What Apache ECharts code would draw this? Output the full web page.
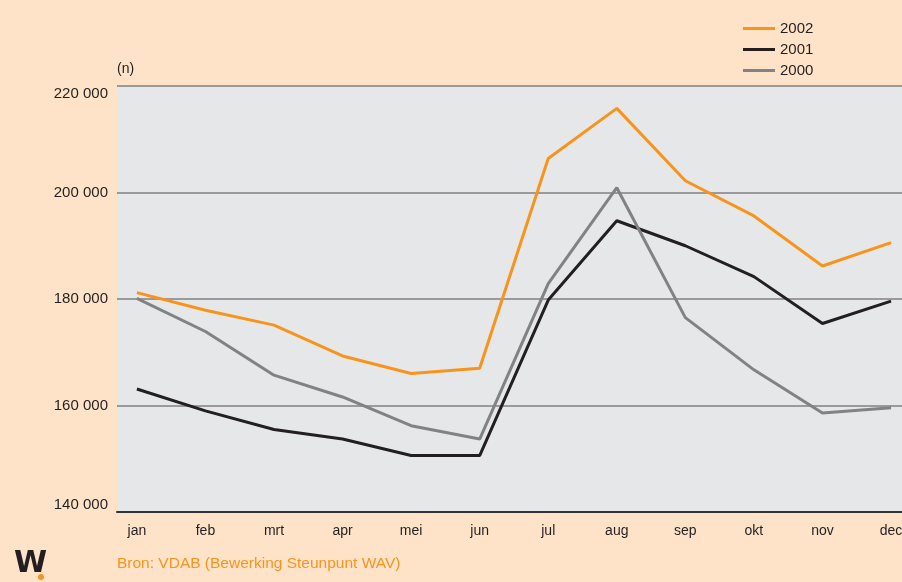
<!DOCTYPE html>
<html>
<head>
<meta charset="utf-8">
<script src="https://cdn.jsdelivr.net/npm/echarts@6/dist/echarts.min.js"></script>
<style>
  html, body { margin: 0; padding: 0; background: #fee3c8; }
  #chart { width: 902px; height: 582px; }
</style>
</head>
<body>
<div id="chart"></div>
<script>
  // maanden (x-as)
  var months = ['jan', 'feb', 'mrt', 'apr', 'mei', 'jun', 'jul', 'aug', 'sep', 'okt', 'nov', 'dec']
  // werkzoekenden per maand
  var data2002 = [181200, 177900, 175100, 169300, 166000, 167000, 206400, 215800, 202200, 195600, 186200, 190600]
  var data2001 = [163100, 159000, 155500, 153700, 150600, 150600, 179800, 194700, 190000, 184200, 175400, 179600]
  var data2000 = [180100, 173900, 165700, 161600, 156200, 153700, 182900, 200900, 176500, 166700, 158600, 159600]
  var yTicks = [140000, 160000, 180000, 200000, 220000]

  var font = '"Liberation Sans", Arial, sans-serif'

  function pairs(arr) {
    return arr.map(function (v, i) { return [i, v] })
  }
  function fmt(v) {
    return String(v).replace(/\B(?=(\d{3})+(?!\d))/g, ' ')
  }

  var chart = echarts.init(document.getElementById('chart'))
  var option = {
    backgroundColor: '#fee3c8',
    animation: false,
    textStyle: { fontFamily: font },
    legend: {
      orient: 'vertical',
      left: 738,
      top: 16,
      icon: 'rect',
      itemWidth: 32,
      itemHeight: 3,
      itemGap: 6,
      textStyle: { fontSize: 15, color: '#231f20', fontFamily: font },
      data: ['2002', '2001', '2000']
    },
    grid: {
      left: 117,
      right: 0,
      top: 86,
      bottom: 70,
      outerBoundsMode: 'none',
      containLabel: false,
      show: true,
      backgroundColor: '#e6e7e8',
      borderWidth: 0
    },
    xAxis: {
      type: 'value',
      min: -0.29,
      max: 11.16,
      axisLine: { show: true, onZero: false, lineStyle: { color: '#333', width: 2 } },
      axisTick: { show: false },
      splitLine: { show: false },
      axisLabel: {
        margin: 12,
        fontSize: 14,
        color: '#231f20',
        customValues: months.map(function (m, i) { return i }),
        formatter: function (v) { return months[Math.round(v)] || '' }
      }
    },
    yAxis: {
      type: 'value',
      min: yTicks[0],
      max: yTicks[yTicks.length - 1],
      interval: 20000,
      axisLine: { show: false },
      axisTick: { show: false },
      axisLabel: {
        margin: 9,
        fontSize: 15,
        color: '#231f20',
        verticalAlignMinLabel: 'bottom',
        verticalAlignMaxLabel: 'top',
        formatter: function (v) { return fmt(v) }
      },
      splitLine: { lineStyle: { color: '#9a9a9c', width: 2 } }
    },
    series: [
      {
        name: '2002', type: 'line', z: 4,
        data: pairs(data2002),
        symbol: 'none',
        color: '#f7941d',
        lineStyle: { width: 3, color: '#f7941d' }
      },
      {
        name: '2001', type: 'line', z: 2,
        data: pairs(data2001),
        symbol: 'none',
        color: '#231f20',
        lineStyle: { width: 3, color: '#231f20' }
      },
      {
        name: '2000', type: 'line', z: 3,
        data: pairs(data2000),
        symbol: 'none',
        color: '#808285',
        lineStyle: { width: 3, color: '#808285' }
      }
    ],
    graphic: [
      {
        type: 'text', left: 117, top: 62,
        style: { text: '(n)', fill: '#231f20', font: '14px ' + font }
      },
      {
        type: 'text', left: 117, top: 556,
        style: { text: 'Bron: VDAB (Bewerking Steunpunt WAV)', fill: '#f7941d', font: '15.5px ' + font }
      },
      {
        type: 'text', left: 14, top: 549,
        style: { text: 'W', fill: '#231f20', font: 'bold 30px "DejaVu Sans", sans-serif' }
      },
      {
        type: 'circle', shape: { cx: 41, cy: 577, r: 3 },
        style: { fill: '#f7941d' }
      }
    ]
  }
  chart.setOption(option)
</script>
</body>
</html>
